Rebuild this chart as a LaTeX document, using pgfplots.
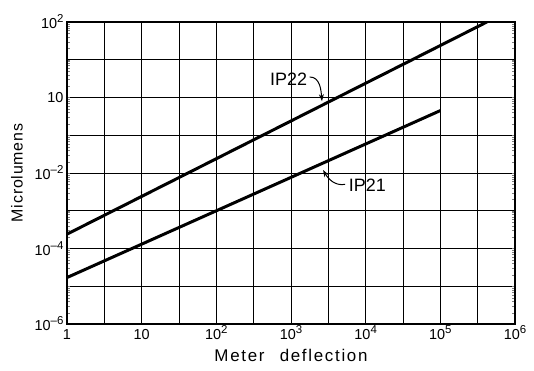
\documentclass[border=0pt]{standalone}
\usepackage{fontspec}
\setmainfont{Liberation Sans}
\usepackage{pgfplots}
\pgfplotsset{compat=1.18}
\usetikzlibrary{arrows.meta}
\newcommand{\sptn}[1]{10\raisebox{0.42em}{\fontsize{11.5}{12}\selectfont #1}}
\begin{document}
\begin{tikzpicture}
\begin{axis}[
  name=ax,
  xmode=log, ymode=log,
  scale only axis, width=448bp, height=302bp,
  xmin=1, xmax=1e6, ymin=1e-6, ymax=1e2,
  xtick={1,3.16228,10,31.6228,100,316.228,1000,3162.28,10000,31622.8,100000,316228,1000000},
  xticklabels={1,,10,,\sptn{2},,\sptn{3},,\sptn{4},,\sptn{5},,\sptn{6}},
  ytick={1e-6,1e-5,1e-4,1e-3,1e-2,1e-1,1,10,100},
  yticklabels={\sptn{–6},,\sptn{–4},,\sptn{–2},,10,,\sptn{2}},
  minor tick num=0,
  major tick length=0pt,
  grid=major,
  major grid style={black, line width=1pt},
  axis line style={black, line width=1.3pt},
  tick label style={font=\fontsize{14.5}{16}\selectfont},
  xticklabel style={text height=12bp, text depth=0pt},
  xlabel={\fontsize{17}{20}\selectfont\addfontfeatures{LetterSpace=10}Meter\hspace{0.9em}deflection},
  ylabel={\fontsize{16}{19}\selectfont\addfontfeatures{LetterSpace=5}Microlumens},
  xlabel style={yshift=-3bp},
  ylabel style={yshift=5bp},
]
% IP22
\addplot[black, line width=3pt] coordinates {(1,2.4e-4) (4.2e5,100)};
% IP21
\addplot[black, line width=3pt] coordinates {(1,1.7e-5) (1e5,0.45)};
\node[anchor=east, font=\fontsize{18}{20}\selectfont, inner sep=1pt] at (axis cs:1700,3.1) {IP22};
\draw[-{Stealth[length=7bp,width=5bp]}, line width=1pt] (axis cs:1780,3.5) to[out=0,in=95] (axis cs:2600,0.8);
\node[anchor=west, font=\fontsize{18}{20}\selectfont, inner sep=1pt] at (axis cs:5750,4.6e-3) {IP21};
\draw[-{Stealth[length=7bp,width=5bp]}, line width=1pt] (axis cs:5300,5e-3) to[out=190,in=-60] (axis cs:2690,0.012);
\end{axis}
\path (ax.south west) ++(-67bp,-47bp) coordinate (bbl);
\path (ax.north east) ++(19bp,22bp) coordinate (bbr);
\path (bbl) rectangle (bbr);
\end{tikzpicture}
\end{document}
